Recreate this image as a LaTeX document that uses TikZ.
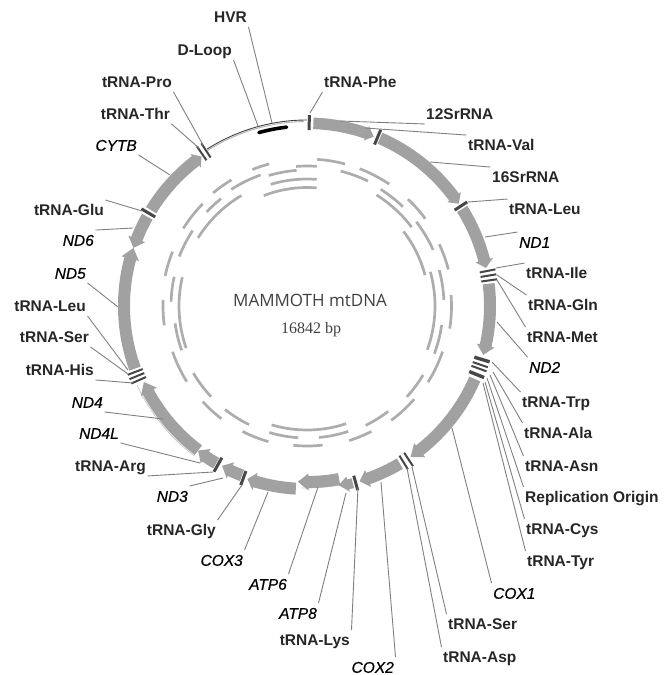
\documentclass[tikz,border=0pt]{standalone}
\usepackage{fontspec}
\setmainfont{Liberation Sans}
\newfontfamily\titlefont{Open Sans}
\newfontfamily\sizefont{Liberation Serif}

\tikzset{
  trnalabel/.style={font=\bfseries\fontsize{15.5}{17}\selectfont, text=black!85, text height=11.5pt, text depth=0pt, inner xsep=1.5pt, inner ysep=4pt},
  genelabel/.style={trnalabel, text=black, font=\itshape\addfontfeature{FakeBold=0.5}\fontsize{15.5}{17}\selectfont},
  leader/.style={draw=black!50, line width=0.9pt},
  gene/.style={fill=black!37},
  trnamark/.style={draw=black!72, line width=3pt},
  marksmall/.style={draw=black!72, line width=2pt},
  markwide/.style={draw=black!72, line width=3.4pt},
  fragment/.style={draw=black!32, line width=2.7pt}
}

\begin{document}
\begin{tikzpicture}[x=1pt,y=-1pt]
\useasboundingbox (0,0) rectangle (671,675);

\begin{scope}[shift={(307,306)},y=1pt]
% Draw the thin control region line
\draw[black!30, line width=0.9pt] (122.5:184.5) arc[start angle=122.5,end angle=91,radius=184.5];
\draw[black!75, line width=0.9pt] (122.5:186) arc[start angle=122.5,end angle=90,radius=186];
\draw[black!25, line width=0.6pt] (-155:187.5) arc[start angle=-155,end angle=-127,radius=187.5];
\draw[black!25, line width=0.6pt] (-80:182) arc[start angle=-80,end angle=-92,radius=182];
\draw[black, line width=3.6pt, line cap=round] (105.5:180) arc[start angle=105.5,end angle=96.5,radius=180];

% Draw the genes as arrows
\fill[gene] (88:177) arc[start angle=88,end angle=71,radius=177] -- (71:175) -- (68.5:182) -- (71:190.5) -- (71:188.5) arc[start angle=71,end angle=88,radius=188.5] -- cycle;
\fill[gene] (66.5:177) arc[start angle=66.5,end angle=36.5,radius=177] -- (36.5:174.5) -- (34:183) -- (36.5:191.5) -- (36.5:189) arc[start angle=36.5,end angle=66.5,radius=189] -- cycle;
\fill[gene] (32:177) arc[start angle=32,end angle=14.5,radius=177] -- (14.5:174) -- (12:183) -- (14.5:192) -- (14.5:189) arc[start angle=14.5,end angle=32,radius=189] -- cycle;
\fill[gene] (7:177) arc[start angle=7,end angle=-12.5,radius=177] -- (-12.5:174) -- (-15.5:183) -- (-12.5:192) -- (-12.5:189) arc[start angle=-12.5,end angle=7,radius=189] -- cycle;
\fill[gene] (-23.5:177) arc[start angle=-23.5,end angle=-52,radius=177] -- (-52:174) -- (-55.5:183) -- (-52:192) -- (-52:189) arc[start angle=-52,end angle=-23.5,radius=189] -- cycle;
\fill[gene] (-59.5:177) arc[start angle=-59.5,end angle=-70.5,radius=177] -- (-70.5:174) -- (-73.3:183) -- (-70.5:192) -- (-70.5:189) arc[start angle=-70.5,end angle=-59.5,radius=189] -- cycle;
\fill[gene] (-75.5:178) arc[start angle=-75.5,end angle=-77,radius=178] -- (-77:175) -- (-80:182) -- (-77:190.5) -- (-77:188) arc[start angle=-77,end angle=-75.5,radius=188] -- cycle;
\fill[gene] (-79.5:170) arc[start angle=-79.5,end angle=-89.5,radius=170] -- (-89.5:167.5) -- (-93:176) -- (-89.5:184.5) -- (-89.5:182) arc[start angle=-89.5,end angle=-79.5,radius=182] -- cycle;
\fill[gene] (-93.5:177) arc[start angle=-93.5,end angle=-106.5,radius=177] -- (-106.5:174) -- (-109:183) -- (-106.5:192) -- (-106.5:189) arc[start angle=-106.5,end angle=-93.5,radius=189] -- cycle;
\fill[gene] (-111:175.5) arc[start angle=-111,end angle=-115,radius=175.5] -- (-115:172.5) -- (-118:181) -- (-115:190) -- (-115:187.5) arc[start angle=-115,end angle=-111,radius=187.5] -- cycle;
\fill[gene] (-120:175.5) arc[start angle=-120,end angle=-124,radius=175.5] -- (-124:172.5) -- (-127:181) -- (-124:190) -- (-124:187.5) arc[start angle=-124,end angle=-120,radius=187.5] -- cycle;
\fill[gene] (-127:174.5) arc[start angle=-127,end angle=-151.5,radius=174.5] -- (-151.5:171) -- (-155:180) -- (-151.5:189) -- (-151.5:186.5) arc[start angle=-151.5,end angle=-127,radius=186.5] -- cycle;
\fill[gene] (-160:177) arc[start angle=-160,end angle=-195,radius=177] -- (-195:174) -- (-198.5:183) -- (-195:192) -- (-195:189) arc[start angle=-195,end angle=-160,radius=189] -- cycle;
\fill[gene] (150.8:177) arc[start angle=150.8,end angle=158.5,radius=177] -- (158.5:174) -- (161.5:183) -- (158.5:192) -- (158.5:189) arc[start angle=158.5,end angle=150.8,radius=189] -- cycle;
\fill[gene] (148.4:177) arc[start angle=148.4,end angle=127.5,radius=177] -- (127.5:174.5) -- (125.2:183) -- (127.5:191.5) -- (127.5:189) arc[start angle=127.5,end angle=148.4,radius=189] -- cycle;

% Draw the tRNA marks across the ring
\draw[trnamark] (89.3:176) -- (89.3:191);
\draw[trnamark] (67.3:175) -- (67.3:191);
\draw[trnamark] (33:176) -- (33:191);
\draw[marksmall] (11:176) -- (11:192);
\draw[marksmall] (9.5:176) -- (9.5:192);
\draw[marksmall] (8:176) -- (8:192);
\draw[markwide] (-17:175) -- (-17:191);
\draw[marksmall] (-18.7:175) -- (-18.7:191);
\draw[marksmall] (-20:175) -- (-20:191);
\draw[markwide] (-22:175) -- (-22:191);
\draw[marksmall] (-56.5:176) -- (-56.5:192);
\draw[marksmall] (-58.3:176) -- (-58.3:192);
\draw[trnamark] (-74.6:176) -- (-74.6:191);
\draw[trnamark] (-110.3:176) -- (-110.3:191);
\draw[trnamark] (-119.3:174) -- (-119.3:190);
\draw[marksmall] (-156.2:176) -- (-156.2:192);
\draw[marksmall] (-157.6:176) -- (-157.6:192);
\draw[marksmall] (-159:176) -- (-159:192);
\draw[trnamark] (149.6:176) -- (149.6:192);
\draw[marksmall] (124.6:177) -- (124.6:194);
\draw[marksmall] (123:177) -- (123:194);

% Draw the inner fragments
\draw[fragment] (86:147) arc[start angle=86,end angle=75,radius=147];
\draw[fragment] (69:147) arc[start angle=69,end angle=56,radius=147];
\draw[fragment] (76:139) arc[start angle=76,end angle=64,radius=139];
\draw[fragment] (57.7:138) arc[start angle=57.7,end angle=46,radius=138];
\draw[fragment] (58:131) arc[start angle=58,end angle=37,radius=131];
\draw[fragment] (46.6:147) arc[start angle=46.6,end angle=36.4,radius=147];
\draw[fragment] (37.6:138) arc[start angle=37.6,end angle=24,radius=138];
\draw[fragment] (37.7:122) arc[start angle=37.7,end angle=14.7,radius=122];
\draw[fragment] (25:146) arc[start angle=25,end angle=14.5,radius=146];
\draw[fragment] (15.5:128) arc[start angle=15.5,end angle=-20,radius=128];
\draw[fragment] (15.2:137) arc[start angle=15.2,end angle=2.5,radius=137];
\draw[fragment] (4.4:144.5) arc[start angle=4.4,end angle=-9,radius=144.5];
\draw[fragment] (-8:136) arc[start angle=-8,end angle=-20.5,radius=136];
\draw[fragment] (-18.6:143) arc[start angle=-18.6,end angle=-32.2,radius=143];
\draw[fragment] (-30.7:135) arc[start angle=-30.7,end angle=-42.3,radius=135];
\draw[fragment] (-41:142) arc[start angle=-41,end angle=-53.6,radius=142];
\draw[fragment] (-52.4:133) arc[start angle=-52.4,end angle=-63.8,radius=133];
\draw[fragment] (-62.8:141) arc[start angle=-62.8,end angle=-72.6,radius=141];
\draw[fragment] (-71.8:132) arc[start angle=-71.8,end angle=-84.8,radius=132];
\draw[fragment] (-71.6:124) arc[start angle=-71.6,end angle=-106.6,radius=124];
\draw[fragment] (-83.6:140) arc[start angle=-83.6,end angle=-95.6,radius=140];
\draw[fragment] (-93.8:132) arc[start angle=-93.8,end angle=-106.6,radius=132];
\draw[fragment] (-105.9:141) arc[start angle=-105.9,end angle=-117.2,radius=141];
\draw[fragment] (-116:132) arc[start angle=-116,end angle=-128.4,radius=132];
\draw[fragment] (-127.2:141.5) arc[start angle=-127.2,end angle=-137.5,radius=141.5];
\draw[fragment] (-136.6:132) arc[start angle=-136.6,end angle=-149.4,radius=132];
\draw[fragment] (-147.8:142) arc[start angle=-147.8,end angle=-161.2,radius=142];
\draw[fragment] (-160.8:128) arc[start angle=-160.8,end angle=-193,radius=128];
\draw[fragment] (-160.6:133) arc[start angle=-160.6,end angle=-172.5,radius=133];
\draw[fragment] (-172.3:144) arc[start angle=-172.3,end angle=-182.4,radius=144];
\draw[fragment] (178.2:136) arc[start angle=178.2,end angle=167.6,radius=136];
\draw[fragment] (168:145) arc[start angle=168,end angle=158,radius=145];
\draw[fragment] (158.8:137) arc[start angle=158.8,end angle=146.6,radius=137];
\draw[fragment] (148:128.5) arc[start angle=148,end angle=120.7,radius=128.5];
\draw[fragment] (147.9:146) arc[start angle=147.9,end angle=135.6,radius=146];
\draw[fragment] (136.8:137.5) arc[start angle=136.8,end angle=128.7,radius=137.5];
\draw[fragment] (129.7:147) arc[start angle=129.7,end angle=120.9,radius=147];
\draw[fragment] (123:139) arc[start angle=123,end angle=109.5,radius=139];
\draw[fragment] (111.8:147) arc[start angle=111.8,end angle=104.9,radius=147];
\draw[fragment] (106.3:136) arc[start angle=106.3,end angle=94.4,radius=136];
\draw[fragment] (94.5:140) arc[start angle=94.5,end angle=86,radius=140];
\draw[fragment] (106.6:127) arc[start angle=106.6,end angle=85.6,radius=127];
\draw[fragment] (111.4:118.5) arc[start angle=111.4,end angle=85.3,radius=118.5];
\end{scope}

% Title in the middle of the ring
\node[text=black!75, font=\titlefont\fontsize{17}{20}\selectfont] (title) at (310,300) {MAMMOTH mtDNA};
\node[text=black!75, font=\sizefont\fontsize{16}{18}\selectfont] (size) at (311,330) {16842 bp};

% Labels going clockwise from the top
\node[trnalabel,anchor=west] (phe) at (322.5,82) {tRNA-Phe};
\node[trnalabel,anchor=west] (val) at (466.5,145) {tRNA-Val};
\node[trnalabel,anchor=west] (srnaA) at (424.5,114) {12SrRNA};
\node[trnalabel,anchor=west] (srnaB) at (490.5,177) {16SrRNA};
\node[trnalabel,anchor=west] (leuA) at (507.5,209) {tRNA-Leu};
\node[genelabel,anchor=west] (ndA) at (517.5,242) {ND1};
\node[trnalabel,anchor=west] (ile) at (524.5,273) {tRNA-Ile};
\node[trnalabel,anchor=west] (gln) at (526.5,305) {tRNA-Gln};
\node[trnalabel,anchor=west] (met) at (525.5,337) {tRNA-Met};
\node[genelabel,anchor=west] (ndB) at (527.5,367) {ND2};
\node[trnalabel,anchor=west] (trp) at (520.5,402) {tRNA-Trp};
\node[trnalabel,anchor=west] (ala) at (522.5,433) {tRNA-Ala};
\node[trnalabel,anchor=west] (asn) at (523.5,466) {tRNA-Asn};
\node[trnalabel,anchor=west] (ori) at (523.5,497) {Replication Origin};
\node[trnalabel,anchor=west] (cys) at (524.5,529) {tRNA-Cys};
\node[trnalabel,anchor=west] (tyr) at (525.5,561) {tRNA-Tyr};
\node[genelabel,anchor=west] (coxA) at (491.5,593) {COX1};
\node[trnalabel,anchor=west] (serA) at (446.5,624) {tRNA-Ser};
\node[trnalabel,anchor=west] (asp) at (441.5,657) {tRNA-Asp};
\node[genelabel,anchor=east] (coxB) at (395.5,667) {COX2};
\node[trnalabel,anchor=east] (lys) at (351.5,640) {tRNA-Lys};
\node[genelabel,anchor=east] (atpB) at (318.5,613) {ATP8};
\node[genelabel,anchor=east] (atpA) at (288.5,584) {ATP6};
\node[genelabel,anchor=east] (coxC) at (244.5,560) {COX3};
\node[trnalabel,anchor=east] (gly) at (217.5,530) {tRNA-Gly};
\node[genelabel,anchor=east] (ndC) at (189.5,496) {ND3};
\node[trnalabel,anchor=east] (arg) at (147.5,466) {tRNA-Arg};
\node[genelabel,anchor=east] (ndD) at (120.5,433) {ND4L};
\node[genelabel,anchor=east] (ndE) at (104.5,402) {ND4};
\node[trnalabel,anchor=east] (his) at (95.5,370) {tRNA-His};
\node[trnalabel,anchor=east] (serB) at (90.5,337) {tRNA-Ser};
\node[trnalabel,anchor=east] (leuB) at (87.5,306) {tRNA-Leu};
\node[genelabel,anchor=east] (ndF) at (87.5,273) {ND5};
\node[genelabel,anchor=east] (ndG) at (95.5,240) {ND6};
\node[trnalabel,anchor=east] (glu) at (105.5,210) {tRNA-Glu};
\node[genelabel,anchor=east] (cytb) at (138.5,145) {CYTB};
\node[trnalabel,anchor=east] (thr) at (171.5,114) {tRNA-Thr};
\node[trnalabel,anchor=east] (pro) at (173.5,82) {tRNA-Pro};
\node[trnalabel,anchor=east] (dloop) at (233.5,50) {D-Loop};
\node[trnalabel,anchor=east] (hvr) at (248.5,17) {HVR};

% Free ends of the leader lines on the ring
\coordinate (phetip) at (310,113);
\coordinate (srnaAtip) at (340,121);
\coordinate (valtip) at (365,128);
\coordinate (srnaBtip) at (430,162);
\coordinate (leuAtip) at (468,202);
\coordinate (ndAtip) at (485,237);
\coordinate (iletip) at (496,268);
\coordinate (glntip) at (497,275);
\coordinate (mettip) at (497,280);
\coordinate (ndBtip) at (497,322);
\coordinate (trptip) at (492,362);
\coordinate (alatip) at (493,372);
\coordinate (asntip) at (490,375);
\coordinate (oritip) at (487,378);
\coordinate (cystip) at (485,382);
\coordinate (tyrtip) at (483,383);
\coordinate (coxAtip) at (452,428);
\coordinate (serAtip) at (412,467);
\coordinate (asptip) at (407,468);
\coordinate (coxBtip) at (381,482);
\coordinate (lystip) at (358,487);
\coordinate (atpBtip) at (346,493);
\coordinate (atpAtip) at (318,487);
\coordinate (coxCtip) at (268,492);
\coordinate (glytip) at (242,485);
\coordinate (ndCtip) at (223,478);
\coordinate (argtip) at (213,472);
\coordinate (ndDtip) at (200,463);
\coordinate (ndEtip) at (163,419);
\coordinate (histip) at (133,383);
\coordinate (serBtip) at (128,374);
\coordinate (leuBtip) at (128,370);
\coordinate (ndFtip) at (118,307);
\coordinate (ndGtip) at (133,228);
\coordinate (glutip) at (142,211);
\coordinate (cytbtip) at (170,175);
\coordinate (thrtip) at (199,148);
\coordinate (protip) at (203,145);
\coordinate (dlooptip) at (258,126);
\coordinate (hvrtip) at (272,123);

% Draw the leader lines
\draw[leader] (phe.south west) -- (phetip);
\draw[leader] (srnaA.south west) -- (srnaAtip);
\draw[leader] (val.north west) -- (valtip);
\draw[leader] (srnaB.north west) -- (srnaBtip);
\draw[leader] (leuA.north west) -- (leuAtip);
\draw[leader] (ndA.north west) -- (ndAtip);
\draw[leader] (ile.north west) -- (iletip);
\draw[leader] (gln.north west) -- (glntip);
\draw[leader] (met.north west) -- (mettip);
\draw[leader] (ndB.north west) -- (ndBtip);
\draw[leader] (trp.north west) -- (trptip);
\draw[leader] (ala.north west) -- (alatip);
\draw[leader] (asn.north west) -- (asntip);
\draw[leader] (ori.north west) -- (oritip);
\draw[leader] (cys.north west) -- (cystip);
\draw[leader] (tyr.north west) -- (tyrtip);
\draw[leader] (coxA.north west) -- (coxAtip);
\draw[leader] (serA.north west) -- (serAtip);
\draw[leader] (asp.north west) -- (asptip);
\draw[leader] (coxB.north east) -- (coxBtip);
\draw[leader] (lys.north east) -- (lystip);
\draw[leader] (atpB.north east) -- (atpBtip);
\draw[leader] (atpA.north east) -- (atpAtip);
\draw[leader] (coxC.north east) -- (coxCtip);
\draw[leader] (gly.north east) -- (glytip);
\draw[leader] (ndC.north east) -- (ndCtip);
\draw[leader] (arg.south east) -- (argtip);
\draw[leader] (ndD.south east) -- (ndDtip);
\draw[leader] (ndE.south east) -- (ndEtip);
\draw[leader] (his.south east) -- (histip);
\draw[leader] (serB.south east) -- (serBtip);
\draw[leader] (leuB.south east) -- (leuBtip);
\draw[leader] (ndF.south east) -- (ndFtip);
\draw[leader] (ndG.north east) -- (ndGtip);
\draw[leader] (glu.north east) -- (glutip);
\draw[leader] (cytb.south east) -- (cytbtip);
\draw[leader] (thr.south east) -- (thrtip);
\draw[leader] (pro.south east) -- (protip);
\draw[leader] (dloop.south east) -- (dlooptip);
\draw[leader] (hvr.south east) -- (hvrtip);

\end{tikzpicture}
\end{document}
